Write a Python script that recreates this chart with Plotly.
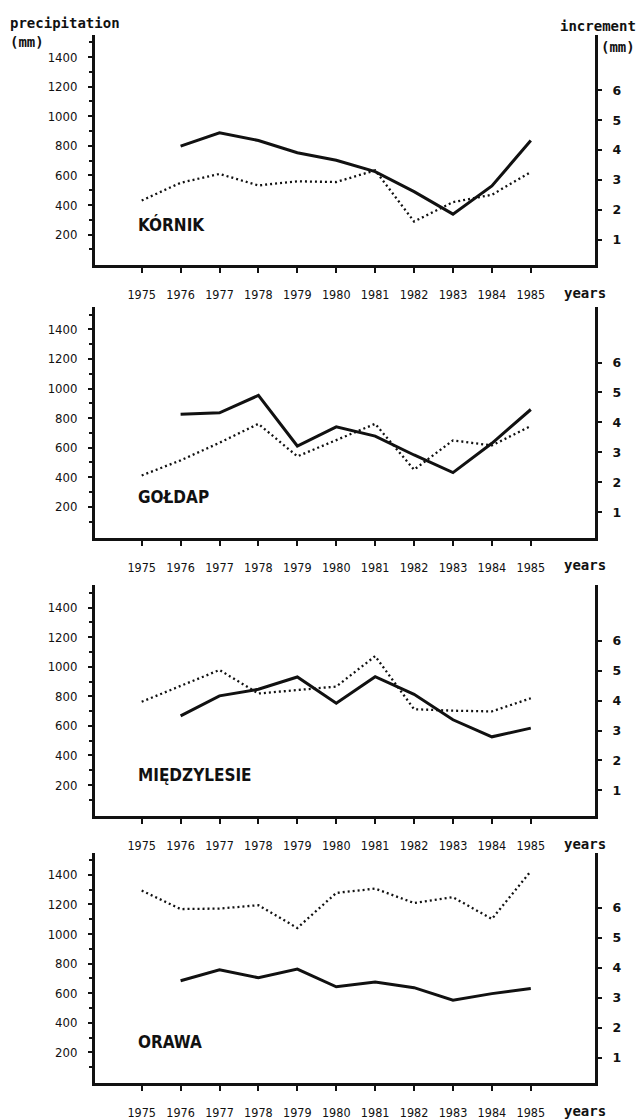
import plotly.graph_objects as go

# Years of observation
years = [1975, 1976, 1977, 1978, 1979, 1980, 1981, 1982, 1983, 1984, 1985]
inc_years = years[1:]

stations = ["KÓRNIK", "GOŁDAP", "MIĘDZYLESIE", "ORAWA"]

# Annual precipitation (mm), 1975-1985
precip_kornik = [430, 550, 610, 532, 560, 555, 634, 288, 419, 469, 622]
precip_goldap = [412, 514, 633, 761, 541, 650, 761, 451, 649, 615, 746]
precip_miedzylesie = [763, 870, 978, 819, 841, 866, 1072, 713, 703, 698, 787]
precip_orawa = [1294, 1169, 1172, 1195, 1041, 1278, 1307, 1210, 1249, 1102, 1425]

# Radial increment (mm), 1976-1985
incr_kornik = [4.13, 4.58, 4.32, 3.91, 3.66, 3.28, 2.61, 1.86, 2.80, 4.32]
incr_goldap = [4.27, 4.32, 4.90, 3.21, 3.85, 3.54, 2.91, 2.32, 3.30, 4.43]
incr_miedzylesie = [3.49, 4.16, 4.38, 4.79, 3.91, 4.80, 4.21, 3.36, 2.79, 3.08]
incr_orawa = [3.57, 3.94, 3.67, 3.96, 3.37, 3.53, 3.34, 2.92, 3.14, 3.31]

precip = [precip_kornik, precip_goldap, precip_miedzylesie, precip_orawa]
incr = [incr_kornik, incr_goldap, incr_miedzylesie, incr_orawa]

left_ticks = [200, 400, 600, 800, 1000, 1200, 1400]
left_minor = [100, 300, 500, 700, 900, 1100, 1300, 1500]
right_ticks = [1, 2, 3, 4, 5, 6]

W, H = 640, 1120
panel_tops = [35, 308, 587, 855]
panel_h = 231
plot_left, plot_right = 95, 595


def px(x):
    return x / W


def py(y):
    return 1 - y / H


cond = "DejaVu Sans Condensed, DejaVu Sans"
year_font = dict(family=cond, size=12.5, color="#111")
left_font = dict(family=cond, size=13, color="#111")
right_font = dict(family="DejaVu Sans", size=12.5, color="#111", weight="bold")
label_font = dict(family="DejaVu Sans Mono", size=14, color="#111", weight="bold")
name_font = dict(family=cond, size=17, color="#111", weight="bold")

fig = go.Figure()
layout = dict(
    width=W, height=H,
    margin=dict(l=0, r=0, t=0, b=0),
    paper_bgcolor="white", plot_bgcolor="white",
    showlegend=False,
    annotations=[],
)

for i in range(4):
    xa = "x" if i == 0 else f"x{i + 1}"
    yl_n = 2 * i + 1
    yr_n = 2 * i + 2
    yl = "y" if yl_n == 1 else f"y{yl_n}"
    yr = f"y{yr_n}"
    top = panel_tops[i]
    dom = [py(top + panel_h), py(top)]

    fig.add_trace(go.Scatter(
        x=years, y=precip[i], xaxis=xa, yaxis=yl, mode="lines",
        line=dict(color="#111", width=2.3, dash="2px,3px"),
    ))
    fig.add_trace(go.Scatter(
        x=inc_years, y=incr[i], xaxis=xa, yaxis=yr, mode="lines",
        line=dict(color="#111", width=3),
    ))

    xkey = "xaxis" if i == 0 else f"xaxis{i + 1}"
    ylkey = "yaxis" if yl_n == 1 else f"yaxis{yl_n}"
    yrkey = f"yaxis{yr_n}"

    layout[xkey] = dict(
        domain=[px(plot_left), px(plot_right)], anchor=yl,
        range=[1973.8, 1986.65], showgrid=False, zeroline=False,
        showline=True, linecolor="#111", linewidth=3,
        ticks="outside", ticklen=5, tickwidth=1.5, tickcolor="#111",
        tickvals=years, ticktext=[str(y) for y in years],
        tickfont=year_font, ticklabelstandoff=11,
    )
    layout[ylkey] = dict(
        domain=dom, anchor=xa, range=[-8, 1550],
        showgrid=False, zeroline=False,
        showline=True, linecolor="#111", linewidth=3,
        ticks="outside", ticklen=4, tickwidth=1.5, tickcolor="#111",
        tickvals=left_ticks, ticktext=[str(v) for v in left_ticks],
        tickfont=left_font, ticklabelstandoff=8,
        minor=dict(tickmode="array", tickvals=left_minor, ticks="outside",
                   ticklen=3, tickwidth=1.5, tickcolor="#111"),
    )
    layout[yrkey] = dict(
        domain=dom, anchor=xa, overlaying=yl, side="right",
        range=[0.15, 7.85], showgrid=False, zeroline=False,
        showline=True, linecolor="#111", linewidth=3,
        ticks="outside", ticklen=4, tickwidth=1.5, tickcolor="#111",
        tickvals=right_ticks, ticktext=[str(v) for v in right_ticks],
        tickfont=right_font, ticklabelstandoff=8,
    )

    bottom = top + panel_h
    # station name inside the panel
    layout["annotations"].append(dict(
        text=stations[i], xref="paper", yref="paper",
        x=px(136), y=py(bottom - 41), xanchor="left", yanchor="middle",
        showarrow=False, font=name_font,
    ))
    # "years" label beside the year ticks
    layout["annotations"].append(dict(
        text="years", xref="paper", yref="paper",
        x=px(585), y=py(bottom + 28), xanchor="center", yanchor="middle",
        showarrow=False, font=label_font,
    ))

# axis titles
layout["annotations"] += [
    dict(text="precipitation", xref="paper", yref="paper", x=px(8), y=py(23),
         xanchor="left", yanchor="middle", showarrow=False, font=label_font),
    dict(text="(mm)", xref="paper", yref="paper", x=px(8), y=py(42),
         xanchor="left", yanchor="middle", showarrow=False, font=label_font),
    dict(text="increment", xref="paper", yref="paper", x=px(638), y=py(26),
         xanchor="right", yanchor="middle", showarrow=False, font=label_font),
    dict(text="(mm)", xref="paper", yref="paper", x=px(599), y=py(47),
         xanchor="left", yanchor="middle", showarrow=False, font=label_font),
]

fig.update_layout(**layout)
fig.write_html("out.html")
